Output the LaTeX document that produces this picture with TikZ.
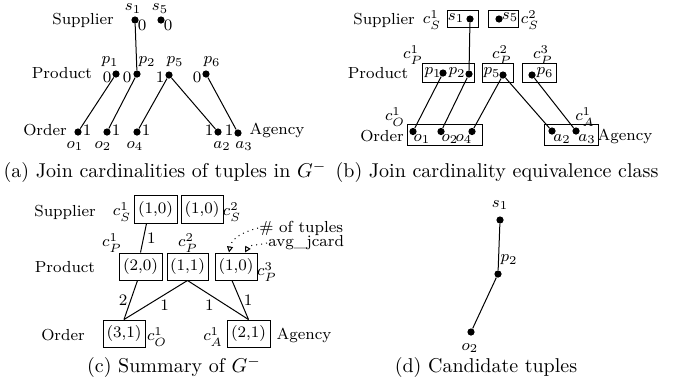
\documentclass[tikz,border=0pt]{standalone}
\usetikzlibrary{arrows.meta}
\begin{document}
\begin{tikzpicture}[x=0.5pt,y=-0.5pt,
  dot/.style={circle,fill=black,inner sep=0pt,minimum size=3.6pt},
  lab/.style={font=\footnotesize,inner sep=0.5pt},
  capt/.style={font=\normalsize,inner sep=0pt},
  bx/.style 2 args={draw,line width=0.5pt,minimum width=#1pt,minimum height=#2pt,inner sep=0pt,font=\footnotesize},
  ln/.style={line width=0.5pt},
  noteline/.style={dotted,line width=0.5pt,-{Triangle[open,length=3pt,width=3pt]}}
]
\useasboundingbox (0,0) rectangle (674,387);

% ---------------- (a) ----------------
\node[lab] (supA) at (83,20) {Supplier};
\node[dot] (s1a) at (135,20) {};
\node[lab] (s1aL) at (133,8.5) {$s_1$};
\node[lab] (s1aN) at (142,25) {0};
\node[dot] (s5a) at (161,20) {};
\node[lab] (s5aL) at (160,8.5) {$s_5$};
\node[lab] (s5aN) at (168,25) {0};
\node[lab] (proA) at (62,73) {Product};
\node[dot] (p1a) at (116,74) {};
\node[lab] (p1aL) at (110,62) {$p_1$};
\node[lab] (p1aN) at (107,77) {0};
\node[dot] (p2a) at (137,74) {};
\node[lab] (p2aL) at (147,62) {$p_2$};
\node[lab] (p2aN) at (127,77) {0};
\node[dot] (p5a) at (169,75) {};
\node[lab] (p5aL) at (175,62) {$p_5$};
\node[lab] (p5aN) at (160,77) {1};
\node[dot] (p6a) at (206,74) {};
\node[lab] (p6aL) at (212,62) {$p_6$};
\node[lab] (p6aN) at (197,77) {0};
\node[lab] (ordA) at (45,130) {Order};
\node[dot] (o1a) at (78,132) {};
\node[lab] (o1aN) at (87,130) {1};
\node[lab] (o1aL) at (75,146) {$o_1$};
\node[dot] (o2a) at (107,132) {};
\node[lab] (o2aN) at (116,130) {1};
\node[lab] (o2aL) at (103,146) {$o_2$};
\node[dot] (o4a) at (137,132) {};
\node[lab] (o4aN) at (146,130) {1};
\node[lab] (o4aL) at (135,146) {$o_4$};
\node[dot] (a2a) at (218,132) {};
\node[lab] (a2aN) at (209,130) {1};
\node[lab] (a2aL) at (222,146) {$a_2$};
\node[dot] (a3a) at (238,133) {};
\node[lab] (a3aN) at (229,130) {1};
\node[lab] (a3aL) at (244,146) {$a_3$};
\node[lab] (ageA) at (277,130) {Agency};
\draw[ln] (s1a) -- (p2a);
\draw[ln] (p1a) -- (o1a);
\draw[ln] (p2a) -- (o2a);
\draw[ln] (p5a) -- (o4a);
\draw[ln] (p5a) -- (a2a);
\draw[ln] (p6a) -- (a3a);
\node[capt] (capA) at (165,172) {(a) Join cardinalities of tuples in $G^{-}$};

% ---------------- (b) ----------------
\node[lab] (supB) at (384,20) {Supplier};
\node[lab] (cs1B) at (432,20) {$c_S^1$};
\node[bx={15.5}{8.5}] (bs1) at (462.5,18.5) {};
\node[lab] (s1bL) at (456,18) {$s_1$};
\node[dot] (s1b) at (470,19) {};
\node[bx={15}{8.5}] (bs5) at (503,18.5) {};
\node[dot] (s5b) at (499,19) {};
\node[lab] (s5bL) at (510,17) {$s_5$};
\node[lab] (cs2B) at (530,20) {$c_S^2$};
\node[lab] (cp1B) at (413,55) {$c_P^1$};
\node[lab] (cp2B) at (502,55) {$c_P^2$};
\node[lab] (cp3B) at (543,55) {$c_P^3$};
\node[lab] (proB) at (378,73) {Product};
\node[bx={26}{9.5}] (bp12) at (448,72.5) {};
\node[lab] (p1bL) at (433,73) {$p_1$};
\node[dot] (p1b) at (443,73) {};
\node[lab] (p2bL) at (457,73) {$p_2$};
\node[dot] (p2b) at (469,74) {};
\node[bx={15.5}{9.5}] (bp5) at (497.5,72.5) {};
\node[lab] (p5bL) at (492,73) {$p_5$};
\node[dot] (p5b) at (503,75) {};
\node[bx={17}{9.5}] (bp6) at (539,72.5) {};
\node[dot] (p6b) at (532,75) {};
\node[lab] (p6bL) at (545,73) {$p_6$};
\node[lab] (co1B) at (395,117) {$c_O^1$};
\node[lab] (ca1B) at (585,117) {$c_A^1$};
\node[lab] (ordB) at (382,136) {Order};
\node[bx={37.5}{10.5}] (bo) at (444.5,134.5) {};
\node[dot] (o1b) at (413,131.5) {};
\node[lab] (o1bL) at (422,139) {$o_1$};
\node[dot] (o2b) at (441,131.5) {};
\node[lab] (o2bL) at (450,139) {$o_2$};
\node[dot] (o4b) at (472,131.5) {};
\node[lab] (o4bL) at (464,139) {$o_4$};
\node[bx={27}{10.5}] (ba) at (571,134.5) {};
\node[dot] (a2b) at (552,131) {};
\node[lab] (a2bL) at (562,139) {$a_2$};
\node[dot] (a3b) at (576,131) {};
\node[lab] (a3bL) at (587,139) {$a_3$};
\node[lab] (ageB) at (625,136) {Agency};
\draw[ln] (s1b) -- (p2b);
\draw[ln] (p1b) -- (o1b);
\draw[ln] (p2b) -- (o2b);
\draw[ln] (p5b) -- (o4b);
\draw[ln] (p5b) -- (a2b);
\draw[ln] (p6b) -- (a3b);
\node[capt] (capB) at (497,172) {(b) Join cardinality equivalence class};

% ---------------- (c) ----------------
\node[lab] (supC) at (65,212) {Supplier};
\node[lab] (cs1C) at (122,212) {$c_S^1$};
\node[bx={21.5}{14}] (sc1) at (155.5,209) {(1,0)};
\node[bx={21}{14}] (sc2) at (202,209) {(1,0)};
\node[lab] (cs2C) at (232,212) {$c_S^2$};
\node[lab] (cp1C) at (112,243) {$c_P^1$};
\node[lab] (cp2C) at (188,243) {$c_P^2$};
\node[lab,anchor=west] (ntup) at (258,228) {\# of tuples};
\node[lab,anchor=west] (navg) at (267,243) {avg\_jcard};
\node[lab] (proC) at (65,267) {Product};
\node[bx={21.5}{13.5}] (pc1) at (140.5,266.5) {(2,0)};
\node[bx={20.5}{13.5}] (pc2) at (187.5,266.5) {(1,1)};
\node[bx={21}{13.5}] (pc3) at (236,266.5) {(1,0)};
\node[lab] (cp3C) at (267,272) {$c_P^3$};
\node[lab] (ordC) at (63,335) {Order};
\node[bx={21}{13.5}] (oc1) at (124,333.5) {(3,1)};
\node[lab] (co1C) at (157,337) {$c_O^1$};
\node[lab] (ca1C) at (213,337) {$c_A^1$};
\node[bx={21.5}{13.5}] (ac1) at (248.5,333.5) {(2,1)};
\node[lab] (ageC) at (304,335) {Agency};
\draw[ln] ([xshift=-4.5pt]sc1.south) -- node[lab,right=1pt] {1} (pc1.north);
\draw[ln] ([xshift=-1.5pt]pc1.south) -- node[lab,left=1pt] {2} (oc1.north);
\draw[ln] (pc2.south) -- node[lab,pos=0.36,below=2pt] {1} (oc1.north);
\draw[ln] (pc2.south) -- node[lab,pos=0.36,below=2pt] {1} (ac1.north);
\draw[ln] ([xshift=-2pt]pc3.south) -- node[lab,right=1pt] {1} (ac1.north);
\draw[noteline] (ntup.west) to[out=195,in=80] ([xshift=-3.5pt]pc3.north);
\draw[noteline] (navg.west) to[out=195,in=60] ([xshift=4.5pt]pc3.north);
\node[capt] (capC) at (174,367) {(c) Summary of $G^{-}$};

% ---------------- (d) ----------------
\node[dot] (s1d) at (500,220) {};
\node[lab] (s1dL) at (500,205) {$s_1$};
\node[dot] (p2d) at (498,274) {};
\node[lab] (p2dL) at (509,260) {$p_2$};
\node[dot] (o2d) at (471,332) {};
\node[lab] (o2dL) at (470,348) {$o_2$};
\draw[ln] (s1d) -- (p2d);
\draw[ln] (p2d) -- (o2d);
\node[capt] (capD) at (486,367) {(d) Candidate tuples};
\end{tikzpicture}
\end{document}
